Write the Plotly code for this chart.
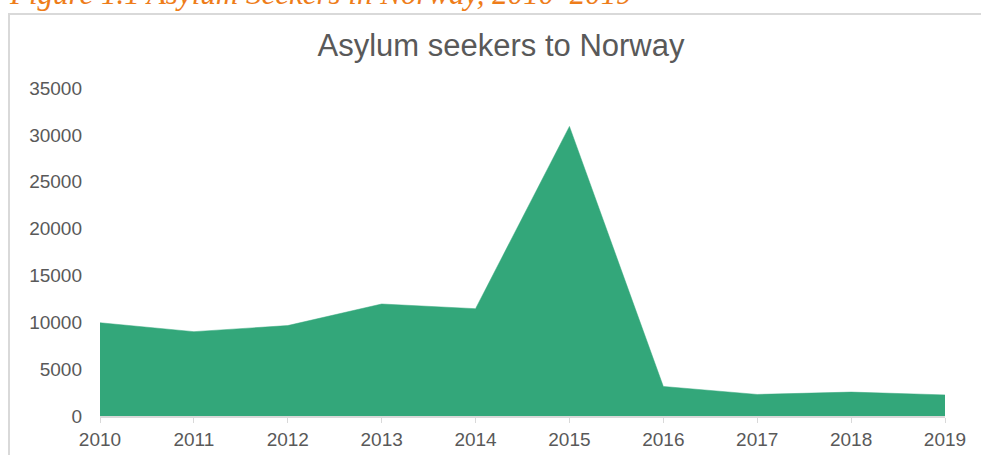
import plotly.graph_objects as go

years = [2010, 2011, 2012, 2013, 2014, 2015, 2016, 2017, 2018, 2019]
asylum_seekers = [9950, 9000, 9650, 11950, 11450, 30900, 3150, 2300, 2550, 2250]
y_ticks = [0, 5000, 10000, 15000, 20000, 25000, 30000, 35000]

W, H = 981, 455
L, R, T, B = 100, 36, 88, 39
pw, ph = W - L - R, H - T - B

def px_x(p):
    return (p - L) / pw

def px_y(p):
    return (H - B - p) / ph

fig = go.Figure()
fig.add_trace(go.Scatter(
    x=years, y=asylum_seekers, mode="lines", fill="tozeroy",
    fillcolor="#33A77A", line=dict(color="#33A77A", width=0.5),
    hoverinfo="x+y", showlegend=False,
))

fig.update_layout(
    width=W, height=H,
    margin=dict(l=L, r=R, t=T, b=B, autoexpand=False),
    paper_bgcolor="white", plot_bgcolor="white",
    font=dict(family="Liberation Sans, Arial, sans-serif", color="#595959"),
    title=dict(text="Asylum seekers to Norway", x=501 / W, xref="container", xanchor="center",
               y=1 - 45 / H, yref="container", yanchor="middle",
               font=dict(size=31, color="#595959", family="Liberation Sans, Arial, sans-serif")),
    xaxis=dict(range=[2010, 2019], tickmode="array", tickvals=years,
               ticktext=[str(y) for y in years], automargin=False,
               showgrid=False, zeroline=False, showline=True, linecolor="#D9D9D9", linewidth=2,
               ticks="outside", ticklen=5, tickcolor="#D9D9D9", tickwidth=1,
               tickfont=dict(size=19, color="#595959")),
    yaxis=dict(range=[0, 35000], tickmode="array", tickvals=y_ticks,
               ticktext=[str(v) for v in y_ticks], automargin=False,
               showgrid=False, zeroline=False, showline=False, ticks="",
               ticklabelstandoff=17,
               tickfont=dict(size=19, color="#595959")),
    shapes=[dict(type="rect", xref="paper", yref="paper",
                 x0=px_x(9), x1=px_x(990), y0=px_y(470), y1=px_y(14),
                 line=dict(color="#D9D9D9", width=2), fillcolor="rgba(0,0,0,0)", layer="below")],
    annotations=[dict(text="<i>Figure 1.1 Asylum Seekers in Norway, 2010–2019</i>",
                      xref="paper", yref="paper", x=px_x(8), y=px_y(12),
                      xanchor="left", yanchor="bottom", showarrow=False, borderpad=0,
                      font=dict(size=31, color="#EE7D1A",
                                family="Liberation Serif, Times New Roman, serif"))],
)

fig.write_html("out.html")
